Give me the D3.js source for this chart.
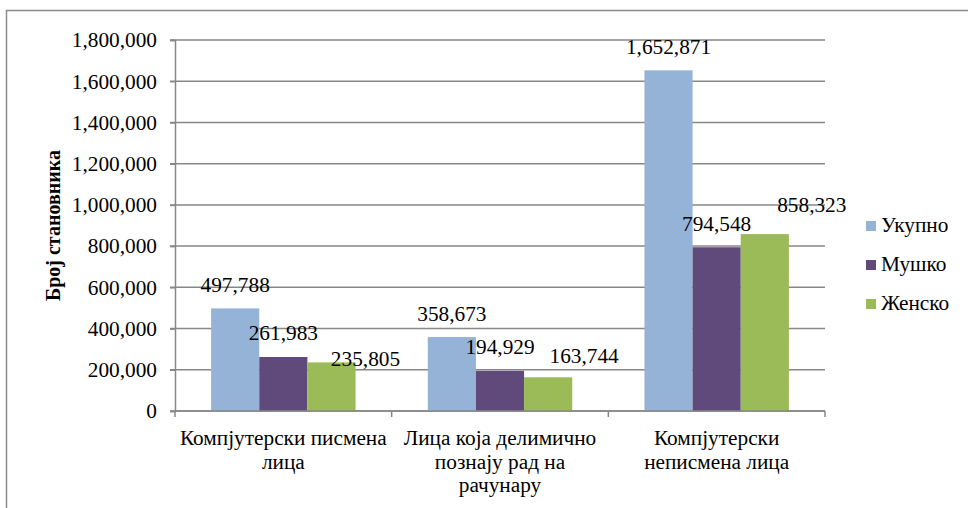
<!DOCTYPE html>
<html>
<head>
<meta charset="utf-8">
<script src="https://cdn.jsdelivr.net/npm/d3@7"></script>
<style>
  html, body { margin: 0; padding: 0; background: #fff; }
  svg { display: block; font-family: "Liberation Serif", "Times New Roman", serif; }
</style>
</head>
<body>
<svg id="chart" width="968" height="508"></svg>
<script>
// Population by computer literacy, split by sex
const categories = [
  "Компјутерски писмена\nлица",
  "Лица која делимично\nпознају рад на\nрачунару",
  "Компјутерски\nнеписмена лица"
];
const seriesNames = ["Укупно", "Мушко", "Женско"];
const ukupno = [497788, 358673, 1652871];
const musko  = [261983, 194929, 794548];
const zensko = [235805, 163744, 858323];
const yTicks = [0, 200000, 400000, 600000, 800000, 1000000, 1200000, 1400000, 1600000, 1800000];
const yTitle = "Број становника";

const colors = ["#95B3D7", "#604A7B", "#9BBB59"];
const seriesValues = [ukupno, musko, zensko];

// label nudges (dx, dy) per series, per category
const labelNudge = [
  [[0, 0], [0, 0], [0, 0]],
  [[0, -1], [0, -1], [0, 0]],
  [[34, 20], [36, 2], [47, -6]]
];

const svg = d3.select("#chart");
const plotLeft = 175, plotRight = 825, plotTop = 40, plotBottom = 411;
const fs = 21.3;
const grid = "#878787";

// outer chart border
svg.append("rect")
  .attr("x", 6.5).attr("y", 10.5).attr("width", 1000).attr("height", 600)
  .attr("fill", "none").attr("stroke", "#8c8c8c").attr("stroke-width", 1.5);

const y = d3.scaleLinear().domain([0, 1800000]).range([plotBottom, plotTop]);
const x = d3.scaleBand().domain(categories).range([plotLeft, plotRight]).paddingInner(0).paddingOuter(0);
const xs = d3.scaleBand().domain(seriesNames).range([0, x.bandwidth()]).paddingInner(0).paddingOuter(0.75);

// horizontal gridlines
svg.append("g").selectAll("line").data(yTicks).join("line")
  .attr("x1", plotLeft - 5).attr("x2", plotRight)
  .attr("y1", d => y(d)).attr("y2", d => y(d))
  .attr("stroke", grid).attr("stroke-width", 1.5);

// y axis
const yAxis = svg.append("g")
  .attr("transform", `translate(${plotLeft},0)`)
  .call(d3.axisLeft(y).tickValues(yTicks).tickFormat(d3.format(",")).tickSize(5).tickPadding(13));
yAxis.select(".domain").attr("stroke", grid).attr("stroke-width", 1.5);
yAxis.selectAll(".tick line").attr("stroke", grid).attr("stroke-width", 1.5);
yAxis.selectAll(".tick text")
  .attr("font-size", fs).attr("font-family", "Liberation Serif").attr("fill", "#000");

// y axis title
svg.append("text")
  .attr("transform", `translate(60,${(plotTop + plotBottom) / 2}) rotate(-90)`)
  .attr("text-anchor", "middle")
  .attr("font-size", 20).attr("font-weight", "bold").attr("fill", "#000")
  .text(yTitle);

// bars
const groups = svg.append("g").selectAll("g").data(seriesValues).join("g")
  .attr("fill", (d, i) => colors[i]);
groups.each(function(vals, si) {
  d3.select(this).selectAll("rect").data(vals).join("rect")
    .attr("x", (d, ci) => x(categories[ci]) + xs(seriesNames[si]))
    .attr("width", xs.bandwidth())
    .attr("y", d => y(d))
    .attr("height", d => plotBottom - y(d));
});

// x axis baseline and category ticks
svg.append("line")
  .attr("x1", plotLeft).attr("x2", plotRight).attr("y1", plotBottom).attr("y2", plotBottom)
  .attr("stroke", grid).attr("stroke-width", 1.5);
const tickXs = categories.map(c => x(c)).concat([plotRight]);
svg.append("g").selectAll("line").data(tickXs).join("line")
  .attr("x1", d => d).attr("x2", d => d)
  .attr("y1", plotBottom).attr("y2", plotBottom + 6)
  .attr("stroke", grid).attr("stroke-width", 1.5);

// category labels
const catLabels = svg.append("g").selectAll("text").data(categories).join("text")
  .attr("text-anchor", "middle")
  .attr("font-size", fs).attr("fill", "#000");
catLabels.each(function(c) {
  const cx = x(c) + x.bandwidth() / 2;
  d3.select(this).selectAll("tspan").data(c.split("\n")).join("tspan")
    .attr("x", cx)
    .attr("y", (d, i) => 445 + i * 23.5)
    .text(d => d);
});

// value labels
const fmt = d3.format(",");
seriesValues.forEach((vals, si) => {
  svg.append("g").selectAll("text").data(vals).join("text")
    .attr("text-anchor", "middle")
    .attr("font-size", fs).attr("fill", "#000")
    .attr("x", (d, ci) => x(categories[ci]) + xs(seriesNames[si]) + xs.bandwidth() / 2 + labelNudge[si][ci][0])
    .attr("y", (d, ci) => y(d) - 16 + labelNudge[si][ci][1])
    .text(d => fmt(d));
});

// legend
const legend = svg.append("g").selectAll("g").data(seriesNames).join("g")
  .attr("transform", (d, i) => `translate(866,${221 + i * 39})`);
legend.append("rect").attr("width", 10).attr("height", 10).attr("fill", (d, i) => colors[i]);
legend.append("text")
  .attr("x", 15).attr("y", 11)
  .attr("font-size", fs).attr("fill", "#000")
  .text(d => d);
</script>
</body>
</html>
